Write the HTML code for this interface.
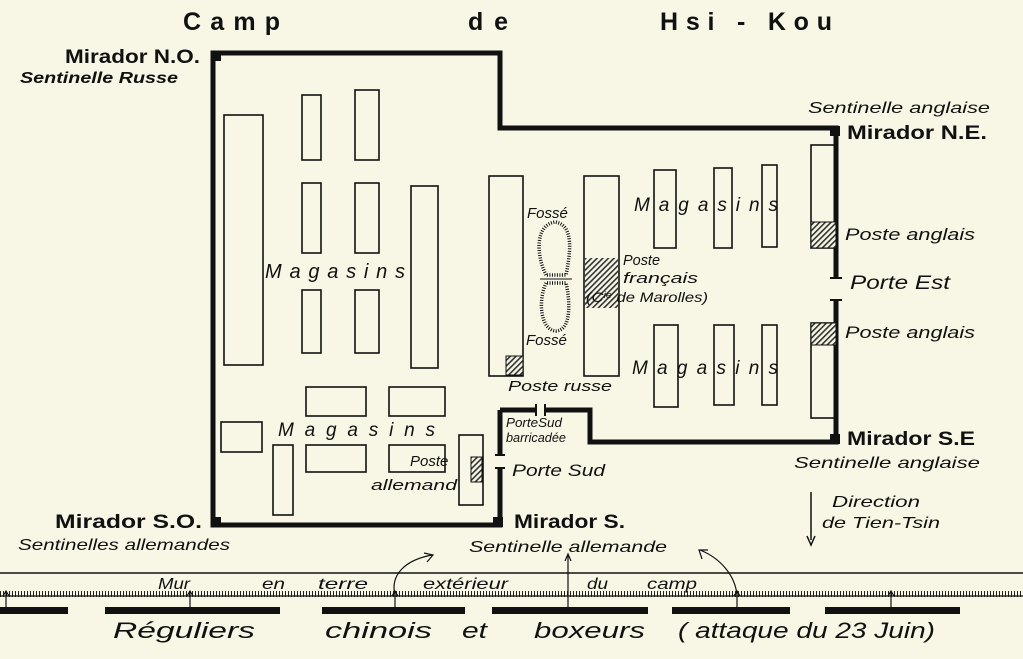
<!DOCTYPE html>
<html><head><meta charset="utf-8"><style>
html,body{margin:0;padding:0;background:#f8f7e6;}
svg{display:block}
text{font-family:"Liberation Sans",sans-serif;fill:#111;}
.i{font-style:italic;}
.b{font-weight:bold;}
</style></head><body>
<svg width="1023" height="659" viewBox="0 0 1023 659" xmlns="http://www.w3.org/2000/svg">
<defs>
<pattern id="h" width="4" height="4" patternUnits="userSpaceOnUse" patternTransform="rotate(45)">
<rect width="4" height="4" fill="#f8f7e6"/><rect width="1.6" height="4" fill="#333"/></pattern>
<pattern id="tk" width="3" height="8" patternUnits="userSpaceOnUse"><rect x="0" y="0" width="1" height="8" fill="#222"/></pattern>
</defs>
<rect width="1023" height="659" fill="#f8f7e6"/>
<!-- title -->
<g font-size="25" font-weight="bold">
<text x="183" y="30" textLength="97" lengthAdjust="spacing">Camp</text>
<text x="468" y="30" textLength="40" lengthAdjust="spacing">de</text>
<text x="660" y="30" textLength="172" lengthAdjust="spacing">Hsi - Kou</text>
</g>
<!-- walls -->
<g fill="none" stroke="#111" stroke-width="5">
<path d="M500,410 L500,455 M500,468 L500,525 L213,525 L213,53 L500,53 L500,128 L836,128 L836,278"/>
<path d="M836,300 L836,442 L590,442 L590,410 L545,410 M536,410 L500,410"/>
</g>
<g stroke="#111" stroke-width="2"><line x1="830" y1="278" x2="842" y2="278"/><line x1="830" y1="300" x2="842" y2="300"/><line x1="545" y1="404" x2="545" y2="416"/><line x1="536" y1="404" x2="536" y2="416"/><line x1="495" y1="455" x2="505" y2="455"/><line x1="495" y1="468" x2="505" y2="468"/></g>
<g fill="#111"><rect x="211" y="51" width="10" height="10"/><rect x="830" y="126" width="10" height="10"/><rect x="830" y="434" width="10" height="10"/><rect x="211" y="517" width="10" height="10"/><rect x="493" y="517" width="10" height="10"/></g>
<!-- buildings -->
<g fill="none" stroke="#111" stroke-width="1.6">
<rect x="224" y="115" width="39" height="250"/>
<rect x="302" y="95" width="19" height="65"/>
<rect x="355" y="90" width="24" height="70"/>
<rect x="302" y="183" width="19" height="70"/>
<rect x="355" y="183" width="24" height="70"/>
<rect x="411" y="186" width="27" height="182"/>
<rect x="302" y="290" width="19" height="63"/>
<rect x="355" y="290" width="24" height="63"/>
<rect x="306" y="387" width="60" height="29"/>
<rect x="389" y="387" width="56" height="29"/>
<rect x="221" y="422" width="41" height="30"/>
<rect x="273" y="445" width="20" height="70"/>
<rect x="306" y="445" width="60" height="27"/>
<rect x="389" y="445" width="56" height="27"/>
<rect x="459" y="435" width="24" height="70"/>
<rect x="489" y="176" width="34" height="200"/>
<rect x="584" y="176" width="35" height="200"/>
<rect x="654" y="170" width="22" height="78"/>
<rect x="714" y="168" width="18" height="80"/>
<rect x="762" y="165" width="15" height="82"/>
<rect x="654" y="325" width="24" height="82"/>
<rect x="714" y="325" width="20" height="80"/>
<rect x="762" y="325" width="15" height="80"/>
<rect x="811" y="145" width="25" height="103"/>
<rect x="811" y="323" width="25" height="95"/>
</g>
<g stroke="#111" stroke-width="1">
<rect x="471" y="457" width="11" height="25" fill="url(#h)"/>
<rect x="506" y="356" width="17" height="19" fill="url(#h)"/>
<rect x="585" y="258" width="33" height="50" fill="url(#h)" stroke="none"/>
<rect x="811" y="222" width="25" height="26" fill="url(#h)"/>
<rect x="811" y="323" width="25" height="22" fill="url(#h)"/>
</g>
<!-- fosse -->
<g fill="none" stroke="#111" stroke-width="3.5" stroke-dasharray="1 1.5">
<path d="M546,275 C536,255 535,225 555,222 C575,225 570,255 566,275 Z"/>
<path d="M546,283 C538,300 540,330 556,331 C572,330 570,300 566,283 Z"/>
</g>
<line x1="540" y1="279" x2="572" y2="279" stroke="#111" stroke-width="1"/>
<!-- labels -->
<g class="i">
<text x="265" y="278" font-size="20" textLength="140" lengthAdjust="spacing">Magasins</text>
<text x="278" y="436" font-size="19" textLength="157" lengthAdjust="spacing">Magasins</text>
<text x="634" y="211" font-size="19" textLength="144" lengthAdjust="spacing">Magasins</text>
<text x="632" y="374" font-size="19" textLength="146" lengthAdjust="spacing">Magasins</text>
<text x="527" y="218" font-size="15">Fossé</text>
<text x="526" y="345" font-size="15">Fossé</text>
<text x="623" y="265" font-size="15" textLength="37" lengthAdjust="spacingAndGlyphs">Poste</text>
<text x="623" y="283" font-size="15" textLength="75" lengthAdjust="spacingAndGlyphs">français</text>
<text x="586" y="302" font-size="14" textLength="122" lengthAdjust="spacingAndGlyphs">(C<tspan font-size="9" dy="-4">ie</tspan><tspan dy="4"> de Marolles)</tspan></text>
<text x="508" y="391" font-size="15" textLength="104" lengthAdjust="spacingAndGlyphs">Poste russe</text>
<text x="506" y="427" font-size="13" textLength="56" lengthAdjust="spacingAndGlyphs">PorteSud</text>
<text x="506" y="442" font-size="13" textLength="60" lengthAdjust="spacingAndGlyphs">barricadée</text>
<text x="512" y="476" font-size="17" textLength="93" lengthAdjust="spacingAndGlyphs">Porte Sud</text>
<text x="410" y="466" font-size="15">Poste</text>
<text x="371" y="490" font-size="15" textLength="86" lengthAdjust="spacingAndGlyphs">allemand</text>
<text x="845" y="240" font-size="17" textLength="130" lengthAdjust="spacingAndGlyphs">Poste anglais</text>
<text x="850" y="289" font-size="19" textLength="100" lengthAdjust="spacingAndGlyphs">Porte Est</text>
<text x="845" y="338" font-size="17" textLength="130" lengthAdjust="spacingAndGlyphs">Poste anglais</text>
<text x="808" y="113" font-size="16" textLength="182" lengthAdjust="spacingAndGlyphs">Sentinelle anglaise</text>
<text x="794" y="468" font-size="16" textLength="186" lengthAdjust="spacingAndGlyphs">Sentinelle anglaise</text>
<text x="832" y="507" font-size="16" textLength="88" lengthAdjust="spacingAndGlyphs">Direction</text>
<text x="822" y="528" font-size="16" textLength="118" lengthAdjust="spacingAndGlyphs">de Tien-Tsin</text>
<text x="20" y="83" font-size="16" class="b" textLength="158" lengthAdjust="spacingAndGlyphs">Sentinelle Russe</text>
<text x="18" y="550" font-size="16" textLength="212" lengthAdjust="spacingAndGlyphs">Sentinelles allemandes</text>
<text x="469" y="552" font-size="16" textLength="198" lengthAdjust="spacingAndGlyphs">Sentinelle allemande</text>
</g>
<g class="b">
<text x="65" y="63" font-size="19" textLength="135" lengthAdjust="spacingAndGlyphs">Mirador N.O.</text>
<text x="847" y="139" font-size="19" textLength="140" lengthAdjust="spacingAndGlyphs">Mirador N.E.</text>
<text x="847" y="445" font-size="19" textLength="128" lengthAdjust="spacingAndGlyphs">Mirador S.E</text>
<text x="55" y="528" font-size="19" textLength="147" lengthAdjust="spacingAndGlyphs">Mirador S.O.</text>
<text x="514" y="528" font-size="19" textLength="111" lengthAdjust="spacingAndGlyphs">Mirador S.</text>
</g>
<line x1="811" y1="492" x2="811" y2="540" stroke="#111" stroke-width="1.5"/>
<path d="M807,536 L811,545 L815,536" fill="none" stroke="#111" stroke-width="1.5"/>
<!-- bottom wall -->
<line x1="0" y1="573" x2="1023" y2="573" stroke="#111" stroke-width="1.5"/>
<rect x="0" y="591" width="1023" height="6" fill="url(#tk)"/>
<line x1="0" y1="596" x2="1023" y2="596" stroke="#111" stroke-width="1.2"/>
<g fill="#111">
<rect x="0" y="607" width="68" height="7"/><rect x="105" y="607" width="175" height="7"/>
<rect x="322" y="607" width="143" height="7"/><rect x="492" y="607" width="156" height="7"/>
<rect x="672" y="607" width="118" height="7"/><rect x="825" y="607" width="135" height="7"/>
</g>
<g stroke="#111" stroke-width="1.2" fill="none">
<path d="M6,607 V592 M3,596 L6,591 L9,596"/>
<path d="M190,607 V592 M187,596 L190,591 L193,596"/>
<path d="M395,607 V592 M392,596 L395,591 L398,596"/>
<path d="M568,607 V555 M565,561 L568,554 L571,561"/>
<path d="M737,607 V592 M734,596 L737,591 L740,596"/>
<path d="M891,607 V592 M888,596 L891,591 L894,596"/>
<path d="M395,595 C390,575 405,560 432,555 M424,553 L433,555 L427,562"/>
<path d="M737,595 C735,575 720,558 700,550 M702,559 L699,550 L708,550"/>
</g>
<g class="i" font-size="16">
<text x="158" y="589" textLength="32" lengthAdjust="spacingAndGlyphs">Mur</text>
<text x="262" y="589" textLength="23" lengthAdjust="spacingAndGlyphs">en</text>
<text x="318" y="589" textLength="50" lengthAdjust="spacingAndGlyphs">terre</text>
<text x="423" y="589" textLength="85" lengthAdjust="spacingAndGlyphs">extérieur</text>
<text x="587" y="589" textLength="21" lengthAdjust="spacingAndGlyphs">du</text>
<text x="647" y="589" textLength="50" lengthAdjust="spacingAndGlyphs">camp</text>
</g>
<g class="i" font-size="22">
<text x="113" y="638" textLength="142" lengthAdjust="spacingAndGlyphs">Réguliers</text>
<text x="325" y="638" textLength="107" lengthAdjust="spacingAndGlyphs">chinois</text>
<text x="462" y="638" textLength="25" lengthAdjust="spacingAndGlyphs">et</text>
<text x="534" y="638" textLength="111" lengthAdjust="spacingAndGlyphs">boxeurs</text>
<text x="678" y="638" textLength="257" lengthAdjust="spacingAndGlyphs">( attaque  du 23 Juin)</text>
</g>
</svg>
</body></html>
